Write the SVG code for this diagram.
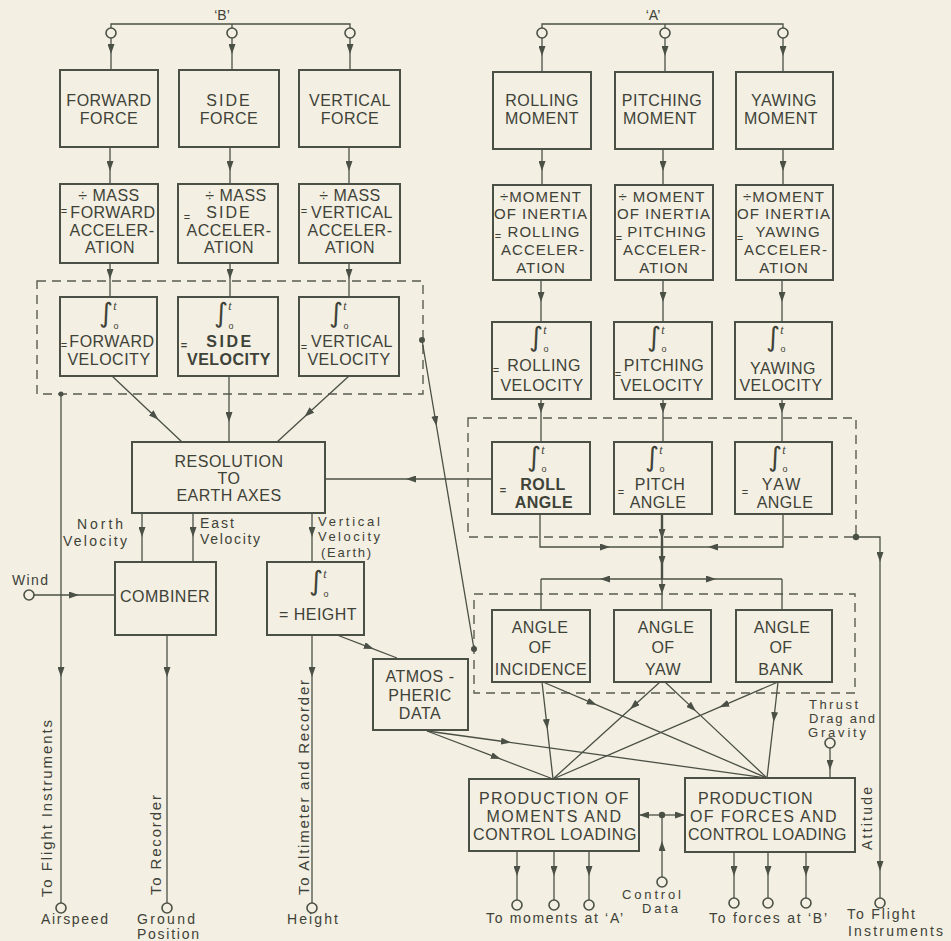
<svg xmlns="http://www.w3.org/2000/svg" width="951" height="941" viewBox="0 0 951 941">
<style>
.bg{fill:#f3efe2}
.b{fill:none;stroke:#4b5046;stroke-width:2}
.c{fill:none;stroke:#4b5046;stroke-width:1.3}
.ck{fill:none;stroke:#4b5046;stroke-width:2.4}
.d{fill:none;stroke:#5a5c52;stroke-width:1.4;stroke-dasharray:9 6}
.t{font-family:"Liberation Sans",Arial,sans-serif;font-size:16px;fill:#3e4238;text-anchor:middle;letter-spacing:0.5px}
.s{font-size:15px;letter-spacing:1px}
.bd{font-weight:bold}
.eq{font-size:11px;letter-spacing:0}
.l{font-family:"Liberation Sans",Arial,sans-serif;font-size:14px;fill:#3e4238}
.sm{font-size:13px}
.r{font-size:15px}
.in{font-family:"DejaVu Sans",sans-serif;font-size:27px;fill:#3e4238;text-anchor:middle}
.it{font-family:"Liberation Serif",serif;font-style:italic;font-size:12px}
.o{font-family:"Liberation Sans",sans-serif;font-size:9px}
.term{fill:#f3efe2;stroke:#4b5046;stroke-width:1.6}
.dot{fill:#4b5046}
</style>
<defs>
<marker id="ah" viewBox="0 0 10 7" refX="6" refY="3.5" markerWidth="10" markerHeight="7" orient="auto" markerUnits="userSpaceOnUse"><path d="M0,0 L10,3.5 L0,7 Z" fill="#4b5046"/></marker>
<marker id="ae" viewBox="0 0 10 7" refX="10" refY="3.5" markerWidth="10" markerHeight="7" orient="auto" markerUnits="userSpaceOnUse"><path d="M0,0 L10,3.5 L0,7 Z" fill="#4b5046"/></marker>
</defs>
<rect class="bg" x="0" y="0" width="951" height="941"/>

<g id="groups">
<rect class="d" x="37" y="281" width="386" height="113"/>
<rect class="d" x="468" y="418" width="388" height="119"/>
<rect class="d" x="474" y="594" width="381" height="99"/>
</g>

<g id="connectors">
<path class="c" d="M111 28 L111 24 L350 24 L350 28 M232 24 L232 28"/>
<path class="c" d="M542 28 L542 24 L783 24 L783 28 M665 24 L665 28"/>
<path class="c" marker-mid="url(#ah)" d="M111 38 L111 50 L111 70"/>
<path class="c" marker-mid="url(#ah)" d="M232 38 L232 50 L232 70"/>
<path class="c" marker-mid="url(#ah)" d="M350 38 L350 50 L350 70"/>
<path class="c" marker-mid="url(#ah)" d="M110 147 L110 167 L110 184"/>
<path class="c" marker-mid="url(#ah)" d="M230 147 L230 167 L230 184"/>
<path class="c" marker-mid="url(#ah)" d="M349 147 L349 167 L349 184"/>
<path class="c" marker-mid="url(#ah)" d="M110 263 L110 275 L110 297"/>
<path class="c" marker-mid="url(#ah)" d="M230 263 L230 275 L230 297"/>
<path class="c" marker-mid="url(#ah)" d="M349 263 L349 275 L349 297"/>
<path class="c" marker-mid="url(#ah)" d="M112 376 L155.5 417 L182 442"/>
<path class="c" marker-mid="url(#ah)" d="M229 376 L229 418 L229 442"/>
<path class="c" marker-mid="url(#ah)" d="M349 376 L307.5 414 L277 442"/>
<path class="c" marker-mid="url(#ah)" d="M492 479 L410 479 L325 479"/>
<path class="c" marker-mid="url(#ah)" d="M142 513 L142 533 L142 562"/>
<path class="c" marker-mid="url(#ah)" d="M193 513 L193 533 L193 562"/>
<path class="c" marker-mid="url(#ah)" d="M312 513 L312 533 L312 562"/>
<path class="c" marker-mid="url(#ah)" d="M34 595 L75 595 L115 595"/>
<path class="c" marker-mid="url(#ah)" d="M61 394 L61 673 L61 903"/>
<path class="c" marker-mid="url(#ah)" d="M167 635 L167 673 L167 903"/>
<path class="c" marker-mid="url(#ah)" d="M312 635 L312 673 L312 903"/>
<path class="c" marker-mid="url(#ah)" d="M337 635 L370 647.6 L397 658"/>
<path class="c" marker-mid="url(#ah)" d="M422 340 L435.8 422 L474 649"/>
<path class="c" marker-mid="url(#ah)" d="M542 38 L542 52 L542 72"/>
<path class="c" marker-mid="url(#ah)" d="M665 38 L665 52 L665 72"/>
<path class="c" marker-mid="url(#ah)" d="M783 38 L783 52 L783 72"/>
<path class="c" marker-mid="url(#ah)" d="M542 149 L542 167 L542 185"/>
<path class="c" marker-mid="url(#ah)" d="M663 149 L663 167 L663 185"/>
<path class="c" marker-mid="url(#ah)" d="M783 149 L783 167 L783 185"/>
<path class="c" marker-mid="url(#ah)" d="M541 280 L541 298 L541 322"/>
<path class="c" marker-mid="url(#ah)" d="M663 280 L663 298 L663 322"/>
<path class="c" marker-mid="url(#ah)" d="M782 280 L782 298 L782 322"/>
<path class="c" marker-mid="url(#ah)" d="M541 399 L541 409 L541 442"/>
<path class="c" marker-mid="url(#ah)" d="M663 399 L663 409 L663 442"/>
<path class="c" marker-mid="url(#ah)" d="M782 399 L782 409 L782 442"/>
<path class="c" d="M540 514 L540 547 L600 547"/>
<path class="c" marker-mid="url(#ah)" d="M600 547 L606 547 L662 547"/>
<path class="c" d="M783 514 L783 547 L718 547"/>
<path class="c" marker-mid="url(#ah)" d="M718 547 L712 547 L662 547"/>
<path class="ck" marker-mid="url(#ah)" d="M662 514 L662 535 L662 562 L662 579"/>
<path class="c" marker-mid="url(#ah)" d="M662 579 L604 579 L541 579"/>
<path class="c" d="M541 579 L541 610"/>
<path class="c" marker-mid="url(#ah)" d="M662 579 L712 579 L782 579"/>
<path class="c" d="M782 579 L782 610"/>
<path class="c" marker-mid="url(#ah)" d="M662 579 L662 590 L662 610"/>
<path class="c" d="M856 537 L880 537 L880 545"/>
<path class="c" marker-mid="url(#ah)" d="M880 545 L880 558 L880 867 L880 898"/>
<path class="c" marker-mid="url(#ah)" d="M542 682 L546.9 725 L553 779"/>
<path class="c" marker-mid="url(#ah)" d="M543 682 L593 703.4 L767 778"/>
<path class="c" marker-mid="url(#ah)" d="M660 682 L633 706.5 L553 779"/>
<path class="c" marker-mid="url(#ah)" d="M665 682 L693 708.4 L767 778"/>
<path class="c" marker-mid="url(#ah)" d="M778 682 L723 705.7 L553 779"/>
<path class="c" marker-mid="url(#ah)" d="M778 682 L774 718 L767 778"/>
<path class="c" marker-mid="url(#ah)" d="M427 731 L497 757.7 L553 779"/>
<path class="c" marker-mid="url(#ah)" d="M427 731 L507 742 L767 778"/>
<path class="c" marker-mid="url(#ah)" d="M830 748 L830 766 L830 778"/>
<path class="c" marker-end="url(#ae)" d="M662 815 L639 815"/>
<path class="c" marker-end="url(#ae)" d="M662 815 L685 815"/>
<path class="c" marker-mid="url(#ah)" d="M662 877 L662 845 L662 815"/>
<path class="c" marker-mid="url(#ah)" d="M517 851 L517 872 L517 900"/>
<path class="c" marker-mid="url(#ah)" d="M554 851 L554 872 L554 900"/>
<path class="c" marker-mid="url(#ah)" d="M589 851 L589 872 L589 900"/>
<path class="c" marker-mid="url(#ah)" d="M734 852 L734 872 L734 898"/>
<path class="c" marker-mid="url(#ah)" d="M768 852 L768 872 L768 898"/>
<path class="c" marker-mid="url(#ah)" d="M806 852 L806 872 L806 898"/>
<circle class="dot" cx="61" cy="394" r="2.5"/>
<circle class="dot" cx="422" cy="340" r="3"/>
<circle class="dot" cx="474" cy="649" r="3"/>
<circle class="dot" cx="856" cy="537" r="3.2"/>
<circle class="dot" cx="662" cy="815" r="3.2"/>
</g>

<g id="terminals">
<circle class="term" cx="111" cy="33" r="5"/>
<circle class="term" cx="232" cy="33" r="5"/>
<circle class="term" cx="350" cy="33" r="5"/>
<circle class="term" cx="542" cy="33" r="5"/>
<circle class="term" cx="665" cy="33" r="5"/>
<circle class="term" cx="783" cy="33" r="5"/>
<circle class="term" cx="29" cy="595" r="5"/>
<circle class="term" cx="61" cy="908" r="5"/>
<circle class="term" cx="167" cy="908" r="5"/>
<circle class="term" cx="312" cy="908" r="5"/>
<circle class="term" cx="830" cy="743" r="5"/>
<circle class="term" cx="662" cy="882" r="5"/>
<circle class="term" cx="517" cy="905" r="5"/>
<circle class="term" cx="554" cy="905" r="5"/>
<circle class="term" cx="589" cy="905" r="5"/>
<circle class="term" cx="734" cy="903" r="5"/>
<circle class="term" cx="768" cy="903" r="5"/>
<circle class="term" cx="806" cy="903" r="5"/>
<circle class="term" cx="880" cy="903" r="5"/>
</g>

<g id="labels">
<text class="l" x="222" y="20" text-anchor="middle">‘B’</text>
<text class="l" x="653" y="20" text-anchor="middle">‘A’</text>
<text class="l" x="77" y="529" textLength="46" lengthAdjust="spacing">North</text>
<text class="l" x="63" y="546" textLength="64" lengthAdjust="spacing">Velocity</text>
<text class="l" x="200" y="528" textLength="34" lengthAdjust="spacing">East</text>
<text class="l" x="200" y="544" textLength="60" lengthAdjust="spacing">Velocity</text>
<text class="l sm" x="318" y="526" textLength="62" lengthAdjust="spacing">Vertical</text>
<text class="l sm" x="318" y="541" textLength="62" lengthAdjust="spacing">Velocity</text>
<text class="l sm" x="321" y="557" textLength="50" lengthAdjust="spacing">(Earth)</text>
<text class="l" x="12" y="585" textLength="36" lengthAdjust="spacing">Wind</text>
<text class="l r" transform="translate(52,897) rotate(-90)" textLength="177" lengthAdjust="spacing">To Flight Instruments</text>
<text class="l r" transform="translate(161,895) rotate(-90)" textLength="100" lengthAdjust="spacing">To Recorder</text>
<text class="l r" transform="translate(309,895) rotate(-90)" textLength="215" lengthAdjust="spacing">To Altimeter and Recorder</text>
<text class="l" x="41" y="924" textLength="67" lengthAdjust="spacing">Airspeed</text>
<text class="l" x="137" y="924" textLength="58" lengthAdjust="spacing">Ground</text>
<text class="l" x="137" y="939" textLength="62" lengthAdjust="spacing">Position</text>
<text class="l" x="287" y="924" textLength="51" lengthAdjust="spacing">Height</text>
<text class="l sm" x="809" y="709" textLength="49" lengthAdjust="spacing">Thrust</text>
<text class="l sm" x="809" y="723" textLength="66" lengthAdjust="spacing">Drag and</text>
<text class="l sm" x="808" y="737" textLength="58" lengthAdjust="spacing">Gravity</text>
<text class="l" transform="translate(872,850) rotate(-90)" textLength="63" lengthAdjust="spacing">Attitude</text>
<text class="l" x="486" y="923" textLength="137" lengthAdjust="spacing">To moments at ‘A’</text>
<text class="l sm" x="622" y="899" textLength="59" lengthAdjust="spacing">Control</text>
<text class="l sm" x="642" y="913" textLength="36" lengthAdjust="spacing">Data</text>
<text class="l" x="709" y="923" textLength="118" lengthAdjust="spacing">To forces at ‘B’</text>
<text class="l" x="847" y="919" textLength="68" lengthAdjust="spacing">To Flight</text>
<text class="l" x="848" y="936" textLength="95" lengthAdjust="spacing">Instruments</text>
</g>

<g id="forward-force"><rect class="b" x="60" y="70" width="98" height="77"/><text class="t" x="109" y="106">FORWARD</text><text class="t" x="109" y="124">FORCE</text></g>
<g id="side-force"><rect class="b" x="179" y="70" width="100" height="77"/><text class="t" x="229" y="106" style="letter-spacing:2px">SIDE</text><text class="t" x="229" y="124">FORCE</text></g>
<g id="vertical-force"><rect class="b" x="299" y="70" width="101" height="77"/><text class="t" x="350" y="106">VERTICAL</text><text class="t" x="350" y="124">FORCE</text></g>

<g id="forward-accel"><rect class="b" x="60" y="184" width="98" height="79"/><text class="t" x="109" y="201">÷ MASS</text><text class="t"><tspan class="eq" x="64" y="215">=</tspan><tspan x="113" y="218">FORWARD</tspan></text><text class="t" x="112" y="236">ACCELER-</text><text class="t" x="110" y="253">ATION</text></g>
<g id="side-accel"><rect class="b" x="178" y="184" width="100" height="79"/><text class="t" x="236" y="201">÷ MASS</text><text class="t"><tspan class="eq" x="187" y="221">=</tspan><tspan x="229" y="218" style="letter-spacing:2px">SIDE</tspan></text><text class="t" x="229" y="236">ACCELER-</text><text class="t" x="229" y="253">ATION</text></g>
<g id="vertical-accel"><rect class="b" x="299" y="184" width="101" height="79"/><text class="t" x="350" y="201">÷  MASS</text><text class="t"><tspan class="eq" x="304" y="215">=</tspan><tspan x="352" y="218">VERTICAL</tspan></text><text class="t" x="350" y="236">ACCELER-</text><text class="t" x="350" y="253">ATION</text></g>

<g id="forward-velocity"><rect class="b" x="60" y="297" width="97" height="79"/><text class="in" x="106" y="322">∫<tspan class="it" x="115" y="310">t</tspan><tspan class="o" x="116" y="329">o</tspan></text><text class="t"><tspan class="eq" x="64" y="349">=</tspan><tspan x="112" y="347">FORWARD</tspan></text><text class="t" x="109" y="365">VELOCITY</text></g>
<g id="side-velocity"><rect class="b" x="178" y="297" width="100" height="79"/><text class="in" x="221" y="322">∫<tspan class="it" x="230" y="310">t</tspan><tspan class="o" x="231" y="329">o</tspan></text><text class="t bd"><tspan class="eq" x="184" y="349">=</tspan><tspan x="230" y="347" style="letter-spacing:2.5px">SIDE</tspan></text><text class="t bd" x="229" y="365">VELOCITY</text></g>
<g id="vertical-velocity"><rect class="b" x="299" y="297" width="100" height="79"/><text class="in" x="336" y="322">∫<tspan class="it" x="345" y="310">t</tspan><tspan class="o" x="346" y="329">o</tspan></text><text class="t"><tspan class="eq" x="304" y="351">=</tspan><tspan x="352" y="347">VERTICAL</tspan></text><text class="t" x="349" y="365">VELOCITY</text></g>

<g id="resolution"><rect class="b" x="132" y="442" width="193" height="71"/><text class="t" x="229" y="467">RESOLUTION</text><text class="t" x="229" y="484">TO</text><text class="t" x="229" y="501">EARTH AXES</text></g>
<g id="combiner"><rect class="b" x="115" y="562" width="101" height="73"/><text class="t" x="165" y="602">COMBINER</text></g>
<g id="height"><rect class="b" x="267" y="562" width="97" height="73"/><text class="in" x="316" y="590">∫<tspan class="it" x="325" y="578">t</tspan><tspan class="o" x="326" y="597">o</tspan></text><text class="t" x="318" y="620">= HEIGHT</text></g>
<g id="atmospheric-data"><rect class="b" x="373" y="659" width="95" height="71"/><text class="t" x="420" y="682">ATMOS -</text><text class="t" x="420" y="701">PHERIC</text><text class="t" x="420" y="719">DATA</text></g>

<g id="rolling-moment"><rect class="b" x="493" y="72" width="98" height="77"/><text class="t" x="542" y="106">ROLLING</text><text class="t" x="542" y="124">MOMENT</text></g>
<g id="pitching-moment"><rect class="b" x="615" y="72" width="98" height="77"/><text class="t" x="662" y="106">PITCHING</text><text class="t" x="660" y="124">MOMENT</text></g>
<g id="yawing-moment"><rect class="b" x="736" y="72" width="97" height="77"/><text class="t" x="784" y="106">YAWING</text><text class="t" x="781" y="124">MOMENT</text></g>

<g id="rolling-accel"><rect class="b" x="493" y="185" width="98" height="95"/><text class="t s" x="541" y="202">÷MOMENT</text><text class="t s" x="541" y="219">OF INERTIA</text><text class="t s"><tspan class="eq" x="498" y="240">=</tspan><tspan x="544" y="237">ROLLING</tspan></text><text class="t s" x="543" y="255">ACCELER-</text><text class="t s" x="541" y="273">ATION</text></g>
<g id="pitching-accel"><rect class="b" x="615" y="185" width="98" height="95"/><text class="t s" x="662" y="202">÷ MOMENT</text><text class="t s" x="664" y="219">OF INERTIA</text><text class="t s"><tspan class="eq" x="619" y="242">=</tspan><tspan x="667" y="237">PITCHING</tspan></text><text class="t s" x="665" y="255">ACCELER-</text><text class="t s" x="664" y="273">ATION</text></g>
<g id="yawing-accel"><rect class="b" x="736" y="185" width="97" height="95"/><text class="t s" x="784" y="202">÷MOMENT</text><text class="t s" x="784" y="219">OF INERTIA</text><text class="t s"><tspan class="eq" x="740" y="242">=</tspan><tspan x="788" y="237">YAWING</tspan></text><text class="t s" x="786" y="255">ACCELER-</text><text class="t s" x="784" y="273">ATION</text></g>

<g id="rolling-velocity"><rect class="b" x="492" y="322" width="99" height="77"/><text class="in" x="536" y="346">∫<tspan class="it" x="545" y="334">t</tspan><tspan class="o" x="546" y="352">o</tspan></text><text class="t"><tspan class="eq" x="496" y="374">=</tspan><tspan x="544" y="371">ROLLING</tspan></text><text class="t" x="542" y="391">VELOCITY</text></g>
<g id="pitching-velocity"><rect class="b" x="614" y="322" width="98" height="77"/><text class="in" x="654" y="346">∫<tspan class="it" x="663" y="334">t</tspan><tspan class="o" x="664" y="352">o</tspan></text><text class="t"><tspan class="eq" x="618" y="378">=</tspan><tspan x="664" y="371">PITCHING</tspan></text><text class="t" x="662" y="391">VELOCITY</text></g>
<g id="yawing-velocity"><rect class="b" x="735" y="322" width="97" height="77"/><text class="in" x="773" y="346">∫<tspan class="it" x="782" y="334">t</tspan><tspan class="o" x="783" y="352">o</tspan></text><text class="t" x="783" y="374">YAWING</text><text class="t" x="781" y="391">VELOCITY</text></g>

<g id="roll-angle"><rect class="b" x="492" y="442" width="98" height="72"/><text class="in" x="534" y="466">∫<tspan class="it" x="543" y="454">t</tspan><tspan class="o" x="544" y="472">o</tspan></text><text class="t bd"><tspan class="eq" x="503" y="494">=</tspan><tspan x="543" y="490">ROLL</tspan></text><text class="t bd" x="544" y="508">ANGLE</text></g>
<g id="pitch-angle"><rect class="b" x="614" y="442" width="98" height="72"/><text class="in" x="652" y="466">∫<tspan class="it" x="661" y="454">t</tspan><tspan class="o" x="662" y="472">o</tspan></text><text class="t"><tspan class="eq" x="621" y="496">=</tspan><tspan x="660" y="490">PITCH</tspan></text><text class="t" x="658" y="508">ANGLE</text></g>
<g id="yaw-angle"><rect class="b" x="735" y="442" width="97" height="72"/><text class="in" x="775" y="466">∫<tspan class="it" x="784" y="454">t</tspan><tspan class="o" x="785" y="472">o</tspan></text><text class="t"><tspan class="eq" x="745" y="496">=</tspan><tspan x="782" y="490" style="letter-spacing:2px">YAW</tspan></text><text class="t" x="785" y="508">ANGLE</text></g>

<g id="angle-of-incidence"><rect class="b" x="492" y="610" width="98" height="72"/><text class="t" x="540" y="633">ANGLE</text><text class="t" x="540" y="653">OF</text><text class="t" x="541" y="675">INCIDENCE</text></g>
<g id="angle-of-yaw"><rect class="b" x="614" y="610" width="97" height="72"/><text class="t" x="666" y="633">ANGLE</text><text class="t" x="663" y="653">OF</text><text class="t" x="663" y="675">YAW</text></g>
<g id="angle-of-bank"><rect class="b" x="736" y="610" width="96" height="72"/><text class="t" x="782" y="633">ANGLE</text><text class="t" x="781" y="653">OF</text><text class="t" x="781" y="675">BANK</text></g>

<g id="production-of-moments"><rect class="b" x="469" y="779" width="170" height="72"/><text class="t" x="554" y="804" textLength="150" lengthAdjust="spacing">PRODUCTION  OF</text><text class="t" x="554" y="822" textLength="135" lengthAdjust="spacing">MOMENTS AND</text><text class="t" x="555" y="840" textLength="164" lengthAdjust="spacing">CONTROL LOADING</text></g>
<g id="production-of-forces"><rect class="b" x="685" y="778" width="170" height="74"/><text class="t" x="698" y="804" style="text-anchor:start" textLength="115" lengthAdjust="spacing">PRODUCTION</text><text class="t" x="690" y="822" style="text-anchor:start" textLength="147" lengthAdjust="spacing">OF FORCES AND</text><text class="t" x="688" y="840" style="text-anchor:start" textLength="159" lengthAdjust="spacing">CONTROL LOADING</text></g>
</svg>
